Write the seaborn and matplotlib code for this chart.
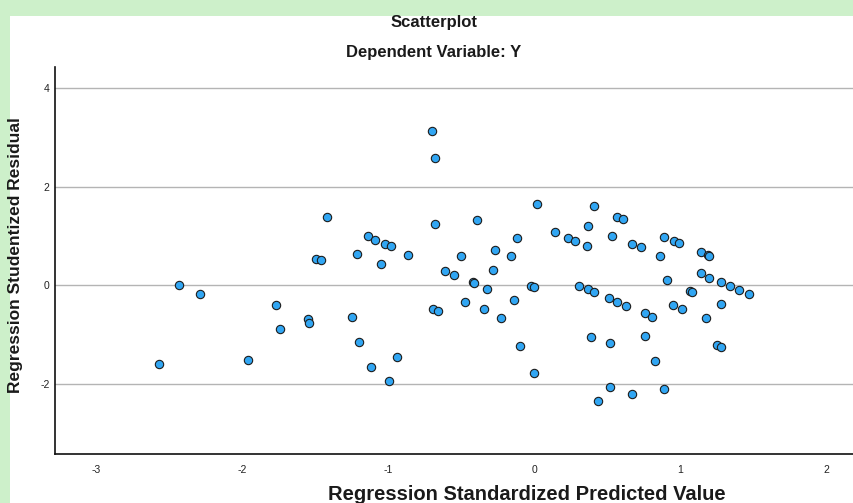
import pandas as pd
import matplotlib
matplotlib.use('Agg')
import matplotlib.pyplot as plt
import seaborn as sns
from matplotlib.patches import Rectangle

# values
pred = [-2.57, -2.43, -2.29, -1.96, -1.77, -1.74, -1.55, -1.54, -1.42, -1.49,
        -1.46, -1.25, -1.21, -1.20, -1.14, -1.09, -1.02, -0.98, -1.05, -0.86,
        -1.12, -0.94, -0.99, -0.70, -0.68, -0.68, -0.69, -0.66, -0.61, -0.55,
        -0.50, -0.47, -0.42, -0.41, -0.39, -0.34, -0.32, -0.28, -0.27, -0.23,
        -0.16, -0.14, -0.12, -0.10, -0.02, 0.00, 0.00, 0.02, 0.14, 0.23,
        0.28, 0.36, 0.37, 0.31, 0.37, 0.41, 0.39, 0.41, 0.57, 0.61,
        0.53, 0.67, 0.73, 0.89, 0.96, 0.99, 0.86, 1.14, 1.19, 1.20,
        1.14, 1.20, 1.28, 1.34, 1.40, 1.47, 0.91, 1.07, 1.08, 0.51,
        0.57, 0.63, 0.95, 1.01, 1.28, 0.76, 0.81, 1.18, 0.52, 0.76,
        1.25, 1.28, 0.83, 0.52, 0.67, 0.89, 0.44]
resid = [-1.60, 0.01, -0.18, -1.52, -0.40, -0.89, -0.69, -0.76, 1.39, 0.54,
         0.51, -0.64, 0.63, -1.14, 1.00, 0.93, 0.84, 0.80, 0.43, 0.62,
         -1.66, -1.45, -1.94, 3.14, 2.59, 1.24, -0.47, -0.51, 0.29, 0.22,
         0.59, -0.33, 0.06, 0.04, 1.32, -0.48, -0.08, 0.32, 0.72, -0.66,
         0.60, -0.30, 0.97, -1.23, -0.01, -0.04, -1.78, 1.66, 1.09, 0.96,
         0.90, 0.79, 1.20, -0.01, -0.08, -0.14, -1.04, 1.62, 1.39, 1.35,
         1.01, 0.84, 0.77, 0.99, 0.90, 0.86, 0.59, 0.68, 0.61, 0.59,
         0.25, 0.15, 0.07, -0.02, -0.10, -0.18, 0.11, -0.11, -0.13, -0.26,
         -0.34, -0.41, -0.39, -0.47, -0.37, -0.57, -0.64, -0.67, -1.17, -1.02,
         -1.20, -1.25, -1.54, -2.06, -2.21, -2.10, -2.35]
x_ticks = [-3, -2, -1, 0, 1, 2]
y_ticks = [-2, 0, 2, 4]

df = pd.DataFrame({'pred': pred, 'resid': resid})

sns.set_style('white')
plt.rcParams['font.family'] = ['Liberation Sans', 'DejaVu Sans']

fig = plt.figure(figsize=(8.54, 5.03), dpi=100)
fig.patch.set_facecolor('#cdf0ca')
# white chart panel on the green page
fig.patches.append(Rectangle((10 / 854, 0), 1, (503 - 16) / 503,
                             transform=fig.transFigure, facecolor='white',
                             edgecolor='none', zorder=-10))

ax = fig.add_axes([55 / 854, (503 - 454) / 503, 1 - 55 / 854, (454 - 67) / 503])
sns.scatterplot(data=df, x='pred', y='resid', ax=ax, s=36,
                color='#31a6f3', edgecolor='#1c1c1c', linewidth=0.8, zorder=3)

ax.set_xlim(-3.28, 2.19)
ax.set_ylim(-3.42, 4.43)
ax.set_xticks(x_ticks)
ax.set_yticks(y_ticks)
ax.set_xticklabels([str(t) for t in x_ticks])
ax.set_yticklabels([str(t) for t in y_ticks])
ax.tick_params(axis='both', length=0, labelsize=7.5, colors='#222222')
ax.tick_params(axis='x', pad=8)
ax.tick_params(axis='y', pad=4)
ax.yaxis.grid(True, color='#b4b4b4', linewidth=1.0)
ax.xaxis.grid(False)
ax.set_axisbelow(True)
for side in ['top', 'right']:
    ax.spines[side].set_visible(False)
for side in ['left', 'bottom']:
    ax.spines[side].set_color('#111111')
    ax.spines[side].set_linewidth(1.2)
ax.set_xlabel('')
ax.set_ylabel('')

fig.text(434 / 854, 1 - 23 / 503, 'Scatterplot', ha='center', va='center',
         fontsize=12, fontweight='bold', color='#1a1a1a')
fig.text(434 / 854, 1 - 53 / 503, 'Dependent Variable: Y', ha='center', va='center',
         fontsize=12, fontweight='bold', color='#1a1a1a')
fig.text(527 / 854, 1 - 494 / 503, 'Regression Standardized Predicted Value',
         ha='center', va='center', fontsize=14.5, fontweight='bold', color='#1a1a1a')
fig.text(16 / 854, 1 - 255 / 503, 'Regression Studentized Residual',
         ha='center', va='center', rotation=90, fontsize=12.5, fontweight='bold',
         color='#1a1a1a')

fig.savefig('out.png', dpi=100)
